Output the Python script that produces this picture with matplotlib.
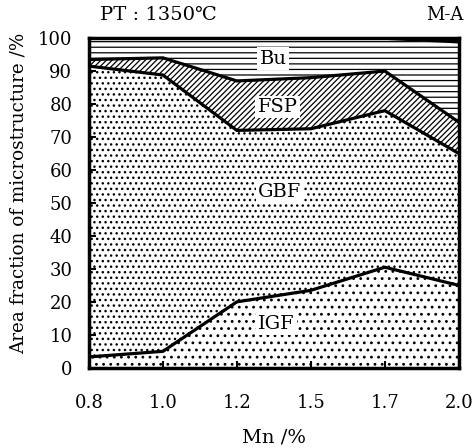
import matplotlib
matplotlib.use("Agg")
import matplotlib.pyplot as plt
import matplotlib.hatch as mhatch
import numpy as np

mn = ["0.8", "1.0", "1.2", "1.5", "1.7", "2.0"]
igf = [3.3, 5.0, 20.0, 23.5, 30.5, 25.0]
gbf_top = [91.5, 88.8, 72.0, 72.5, 78.0, 65.0]
fsp_top = [93.5, 94.0, 87.0, 88.0, 90.0, 74.5]
bu_top = [100.0, 100.0, 100.0, 100.0, 99.6, 98.5]
ma_top = [100, 100, 100, 100, 100, 100]


class TinyDots(mhatch.Circles):
    size = 0.11
    filled = True

    def __init__(self, hatch, density):
        n = hatch.count('.')
        self.num_rows = (n * 4 + 6) if n else 0
        super().__init__(hatch, density)


for i, t in enumerate(mhatch._hatch_types):
    if t is mhatch.SmallFilledCircles:
        mhatch._hatch_types[i] = TinyDots

plt.rcParams['font.family'] = ['DejaVu Serif']
plt.rcParams['hatch.linewidth'] = 0.9

fig = plt.figure(figsize=(4.73, 4.48), dpi=100)
ax = fig.add_axes([0.188, 0.179, 0.782, 0.736])
x = np.arange(len(mn))
zero = np.zeros(len(mn))

ax.fill_between(x, zero, igf, facecolor='white', edgecolor='black', hatch='..', linewidth=0)
ax.fill_between(x, igf, gbf_top, facecolor='white', edgecolor='black', hatch='...', linewidth=0)
ax.fill_between(x, gbf_top, fsp_top, facecolor='white', edgecolor='black', hatch='//////', linewidth=0)
ax.fill_between(x, fsp_top, bu_top, facecolor='white', edgecolor='black', hatch='---', linewidth=0)
ax.fill_between(x, bu_top, ma_top, facecolor='black', edgecolor='black', linewidth=0)

for s in [igf, gbf_top, fsp_top]:
    ax.plot(x, s, color='black', linewidth=2.3, solid_joinstyle='miter')

ax.set_xlim(0, len(mn) - 1)
ax.set_ylim(0, 100)
ax.set_xticks(x)
ax.set_xticklabels(mn)
ax.set_yticks(range(0, 101, 10))
ax.tick_params(direction='in', length=5, width=1.5, labelsize=13)
ax.tick_params(axis='x', pad=19)
ax.tick_params(axis='y', pad=12)
for s in ax.spines.values():
    s.set_linewidth(2.5)

box = dict(facecolor='white', edgecolor='none', pad=1.5)
ax.text(2.49, 93.8, "Bu", fontsize=14, ha='center', va='center', bbox=box)
ax.text(2.55, 79, "FSP", fontsize=14, ha='center', va='center', bbox=box)
ax.text(2.58, 53.3, "GBF", fontsize=14, ha='center', va='center', bbox=box)
ax.text(2.53, 13.3, "IGF", fontsize=14, ha='center', va='center', bbox=box)

ax.set_xlabel("Mn /%", fontsize=14, labelpad=12)
ax.set_ylabel("Area fraction of microstructure /%", fontsize=13.2)
ax.yaxis.set_label_coords(-0.165, 0.53)
fig.text(0.211, 0.966, "PT : 1350℃", fontsize=14, ha='left', va='center')
fig.text(0.979, 0.966, "M-A", fontsize=13, ha='right', va='center')

fig.savefig("out.png", dpi=100)
